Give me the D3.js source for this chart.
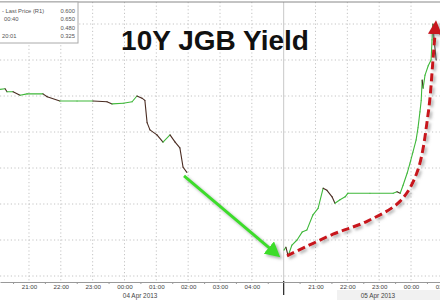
<!DOCTYPE html>
<html>
<head>
<meta charset="utf-8">
<script src="https://cdn.jsdelivr.net/npm/d3@7"></script>
<style>
  body { margin: 0; background: #fff; }
  svg { display: block; font-family: "Liberation Sans", Arial, sans-serif; }
</style>
</head>
<body>
<script>
// session hours: 0 = 20:00 on 04 Apr, 9 = 20:00 on 05 Apr (gapless trading clock)
const day1Hours  = [0.05, 0.25, 0.31, 0.50, 0.72, 0.94, 1.44, 1.57, 1.97, 2.51, 3.01, 3.45, 3.61, 3.96, 4.24, 4.39, 4.55, 4.64, 4.71, 4.80, 5.02, 5.21, 5.43, 5.59, 5.74, 5.84, 5.96];
const day1Yields = [0.559, 0.560, 0.556, 0.556, 0.551, 0.553, 0.553, 0.549, 0.543, 0.543, 0.543, 0.542, 0.539, 0.540, 0.542, 0.550, 0.547, 0.544, 0.513, 0.503, 0.496, 0.486, 0.496, 0.486, 0.478, 0.451, 0.444];

const day2Hours  = [9.01, 9.07, 9.14, 9.26, 9.42, 9.58, 9.73, 9.92, 10.08, 10.24, 10.36, 10.52, 10.61, 10.77, 10.93, 11.02, 11.71, 12.44, 12.56, 12.66, 12.75, 12.88, 12.97, 13.06, 13.16, 13.22, 13.28, 13.32, 13.35, 13.38, 13.44, 13.54, 13.63, 13.66, 13.69, 13.72, 13.79];
const day2Yields = [0.336, 0.340, 0.328, 0.343, 0.350, 0.361, 0.364, 0.385, 0.394, 0.422, 0.419, 0.410, 0.401, 0.406, 0.410, 0.415, 0.415, 0.415, 0.417, 0.415, 0.426, 0.443, 0.457, 0.472, 0.489, 0.506, 0.528, 0.544, 0.572, 0.561, 0.579, 0.592, 0.600, 0.628, 0.650, 0.630, 0.600];

const tickHours  = [1, 2, 3, 4, 5, 6, 7, 8, 10, 11, 12, 13, 14];
const tickLabels = ['21:00', '22:00', '23:00', '00:00', '01:00', '02:00', '03:00', '04:00', '21:00', '22:00', '23:00', '00:00', '01:00'];
const dateHours  = [4.49, 11.96];
const dateLabels = ['04 Apr 2013', '05 Apr 2013'];
const yGrid = [0.30, 0.35, 0.40, 0.45, 0.50, 0.55, 0.60, 0.65];

const legendNames  = ['- Last Price (R1)', '00:40', '', '20:01'];
const legendValues = ['0.600', '0.650', '0.480', '0.325'];

// annotation paths in data units
const greenArrowHours  = [5.87, 8.63];
const greenArrowYields = [0.439, 0.336];
const redArrowHours  = [9.105, 10.55, 11.62, 12.66, 13.19, 13.54, 13.69, 13.76];
const redArrowYields = [0.328, 0.358, 0.376, 0.404, 0.444, 0.526, 0.600, 0.640];

const width = 440;
const height = 300;
const axisY = 282;

const x = d3.scaleLinear().domain([0.09, 13.91]).range([0, width]);
const y = d3.scaleLinear().domain([0.30, 0.65]).range([276, 24]);

const svg = d3.select('body').append('svg')
    .attr('width', width)
    .attr('height', height);

const defs = svg.append('defs');
const shadow = defs.append('filter').attr('id', 'shadow')
    .attr('x', '-20%').attr('y', '-20%').attr('width', '140%').attr('height', '140%');
shadow.append('feDropShadow')
    .attr('dx', 2).attr('dy', 2).attr('stdDeviation', 1.5)
    .attr('flood-color', '#777').attr('flood-opacity', 0.6);

defs.append('marker').attr('id', 'greenHead')
    .attr('markerUnits', 'userSpaceOnUse')
    .attr('markerWidth', 16).attr('markerHeight', 16)
    .attr('refX', 4).attr('refY', 8).attr('orient', 'auto')
    .append('path').attr('d', 'M0,0 L15,8 L0,16 Z').attr('fill', '#3ddc2c');

defs.append('marker').attr('id', 'redHead')
    .attr('markerUnits', 'userSpaceOnUse')
    .attr('markerWidth', 14).attr('markerHeight', 14)
    .attr('refX', 3).attr('refY', 7).attr('orient', 'auto')
    .append('path').attr('d', 'M0,0 L14,7 L0,14 Z').attr('fill', '#c8141c');

// bottom date strip
svg.append('rect')
    .attr('x', 337).attr('y', 290).attr('width', 103).attr('height', 10)
    .attr('fill', '#f1f1f1');

// grid
svg.append('g').selectAll('line')
    .data(yGrid)
    .join('line')
    .attr('x1', 0).attr('x2', width)
    .attr('y1', d => y(d)).attr('y2', d => y(d))
    .attr('stroke', '#c4c4c4')
    .attr('stroke-dasharray', '1.2,2.4');

svg.append('g').selectAll('line')
    .data(tickHours)
    .join('line')
    .attr('x1', d => x(d)).attr('x2', d => x(d))
    .attr('y1', 2).attr('y2', axisY)
    .attr('stroke', '#c4c4c4')
    .attr('stroke-dasharray', '1.2,2.4');

// day separator
svg.append('line')
    .attr('x1', x(9)).attr('x2', x(9))
    .attr('y1', 2).attr('y2', axisY)
    .attr('stroke', '#c8c8c8');
svg.append('line')
    .attr('x1', x(9)).attr('x2', x(9))
    .attr('y1', axisY - 1).attr('y2', 295)
    .attr('stroke', '#222').attr('stroke-width', 1.2);

// frame top + x axis
svg.append('line')
    .attr('x1', 0).attr('x2', width).attr('y1', 2).attr('y2', 2)
    .attr('stroke', '#888');

const xAxis = d3.axisBottom(x)
    .tickValues(tickHours)
    .tickFormat((d, i) => tickLabels[i])
    .tickSize(0)
    .tickPadding(3);
const gx = svg.append('g')
    .attr('transform', `translate(0,${axisY})`)
    .call(xAxis);
gx.select('.domain').attr('stroke', '#999');
gx.selectAll('text')
    .attr('font-size', 6.2)
    .attr('fill', '#444')
    .attr('font-family', '"Liberation Sans", Arial, sans-serif');

const halfHours = d3.range(0.5, 14, 1);
svg.append('g')
    .attr('transform', `translate(0,${axisY})`)
    .call(d3.axisBottom(x).tickValues(halfHours).tickFormat('').tickSize(2))
    .call(g => g.select('.domain').remove())
    .selectAll('line').attr('stroke', '#999');

svg.append('g').selectAll('text')
    .data(dateLabels)
    .join('text')
    .attr('x', (d, i) => x(dateHours[i]))
    .attr('y', 298)
    .attr('text-anchor', 'middle')
    .attr('font-size', 6.4)
    .attr('fill', '#444')
    .text(d => d);

// price line, coloured by tick direction
function drawSeries(hours, yields) {
    const segs = d3.pairs(d3.range(hours.length));
    svg.append('g').selectAll('line')
        .data(segs)
        .join('line')
        .attr('x1', d => x(hours[d[0]])).attr('y1', d => y(yields[d[0]]))
        .attr('x2', d => x(hours[d[1]])).attr('y2', d => y(yields[d[1]]))
        .attr('stroke', d => yields[d[1]] < yields[d[0]] ? '#4a2c22' : '#3fb83a')
        .attr('stroke-width', 1.1)
        .attr('stroke-linecap', 'round');
}
drawSeries(day1Hours, day1Yields);
drawSeries(day2Hours, day2Yields);

// title
svg.append('text')
    .attr('x', 215).attr('y', 50)
    .attr('text-anchor', 'middle')
    .attr('font-size', 28)
    .attr('font-weight', 'bold')
    .attr('fill', '#111')
    .text('10Y JGB Yield');

// legend box (cut at left edge)
const legend = svg.append('g');
legend.append('rect')
    .attr('x', -5).attr('y', 2).attr('width', 83).attr('height', 41)
    .attr('fill', '#fff').attr('stroke', '#aaa');
legend.selectAll('text.name')
    .data(legendNames)
    .join('text')
    .attr('class', 'name')
    .attr('x', (d, i) => i === 1 ? 4 : 2)
    .attr('y', (d, i) => 13 + i * 8.3)
    .attr('font-size', 5.8)
    .attr('fill', '#555')
    .text(d => d);
legend.selectAll('text.val')
    .data(legendValues)
    .join('text')
    .attr('class', 'val')
    .attr('x', 75)
    .attr('text-anchor', 'end')
    .attr('y', (d, i) => 13 + i * 8.3)
    .attr('font-size', 5.8)
    .attr('fill', '#555')
    .text(d => d);

// annotations
const annLine = d3.line()
    .x(d => x(d[0]))
    .y(d => y(d[1]));

svg.append('path')
    .datum(d3.zip(greenArrowHours, greenArrowYields))
    .attr('d', annLine)
    .attr('fill', 'none')
    .attr('stroke', '#3ddc2c')
    .attr('stroke-width', 3)
    .attr('marker-end', 'url(#greenHead)')
    .attr('filter', 'url(#shadow)');

svg.append('path')
    .datum(d3.zip(redArrowHours, redArrowYields))
    .attr('d', annLine.curve(d3.curveCatmullRom))
    .attr('fill', 'none')
    .attr('stroke', '#c8141c')
    .attr('stroke-width', 3)
    .attr('stroke-dasharray', '8,4')
    .attr('marker-end', 'url(#redHead)')
    .attr('filter', 'url(#shadow)');
</script>
</body>
</html>
